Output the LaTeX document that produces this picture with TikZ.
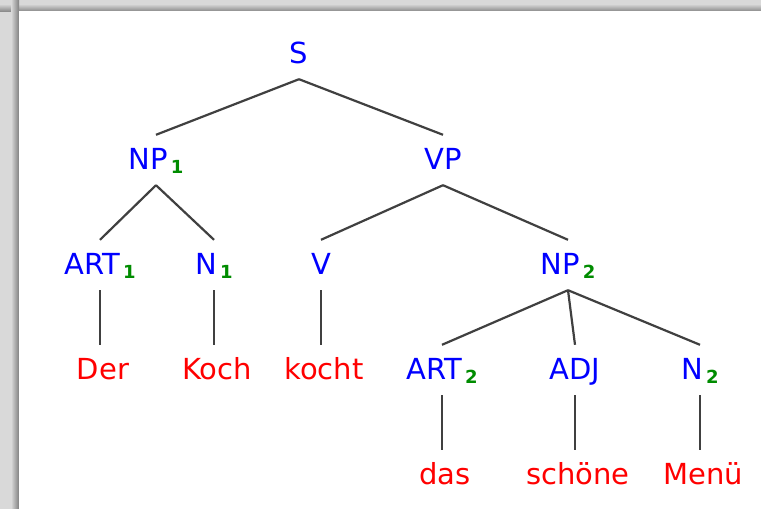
\documentclass[tikz,border=0pt]{standalone}
\usepackage{fontspec}
\setmainfont{DejaVu Sans}
\usetikzlibrary{positioning}
\definecolor{tagblue}{RGB}{0,0,255}
\definecolor{wordred}{RGB}{255,0,0}
\definecolor{idxgreen}{RGB}{0,140,0}
\definecolor{edgegray}{RGB}{64,64,64}
\newcommand{\idx}[1]{\hspace{3pt}\raisebox{-4pt}{\fontsize{18}{18}\selectfont\bfseries\textcolor{idxgreen}{#1}}}
\begin{document}
\begin{tikzpicture}[x=1pt, y=-1pt, node distance=105pt,
	tag/.style={rectangle,text=tagblue,font=\fontsize{29}{34}\selectfont,text height=22pt,text depth=4pt,inner ysep=12pt,inner xsep=0pt},
	word/.style={tag,text=wordred,xshift=3pt},
	edge/.style={draw=edgegray,line width=2.2pt}]
	\useasboundingbox (0,0) rectangle (761,509);
	% Frame
	\fill [black!15] (0,0) rectangle (761,509);
	\shade [top color=black!15,bottom color=black!45] (0,4) rectangle (761,11);
	\shade [left color=black!15,right color=black!50] (11,0) rectangle (19,509);
	\fill [white] (19,11) rectangle (761,509);
	
	% Place nodes
	\node [tag] (s) at (299,54) {S};
	\node [tag] (np1) at (156,160) {NP\idx{1}};
	\node [tag] (vp) at (443,160) {VP};
	\node [tag] (art1) at (100,265) {ART\idx{1}};
	\node [tag] (n1) at (214,265) {N\idx{1}};
	\node [tag] (v) at (321,265) {V};
	\node [tag] (np2) at (568,265) {NP\idx{2}};
	\node [tag] (art2) at (442,370) {ART\idx{2}};
	\node [tag] (adj) at (575,370) {ADJ};
	\node [tag] (n2) at (700,370) {N\idx{2}};
	
	\node [word,below of=art1] (der) {Der};
	\node [word,below of=n1] (koch) {Koch};
	\node [word,below of=v] (kocht) {kocht};
	\node [word,below of=art2] (das) {das};
	\node [word,below of=adj] (schoene) {schöne};
	\node [word,below of=n2] (menue) {Menü};
	
	% Branches
	\draw [edge] (s.south) -- (np1.north);
	\draw [edge] (s.south) -- (vp.north);
	\draw [edge] (np1.south) -- (art1.north);
	\draw [edge] (np1.south) -- (n1.north);
	\draw [edge] (vp.south) -- (v.north);
	\draw [edge] (vp.south) -- (np2.north);
	\draw [edge] (np2.south) -- (art2.north);
	\draw [edge] (np2.south) -- (adj.north);
	\draw [edge] (np2.south) -- (n2.north);
	
	\draw [edge] (art1.south) -- (art1.south |- der.north);
	\draw [edge] (n1.south) -- (n1.south |- koch.north);
	\draw [edge] (v.south) -- (v.south |- kocht.north);
	\draw [edge] (art2.south) -- (art2.south |- das.north);
	\draw [edge] (adj.south) -- (adj.south |- schoene.north);
	\draw [edge] (n2.south) -- (n2.south |- menue.north);
\end{tikzpicture}
\end{document}
